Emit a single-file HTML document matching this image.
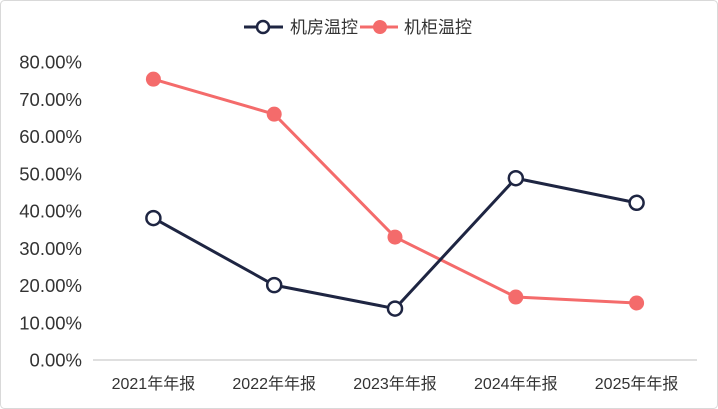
<!DOCTYPE html>
<html><head><meta charset="utf-8"><style>
body{margin:0;background:#fff;}
svg{display:block;font-family:"Liberation Sans","Noto Sans CJK SC",sans-serif;}
</style></head><body>
<svg id="c" width="718" height="409">
<rect x="0.5" y="0.5" width="717" height="408" rx="4" fill="#fff" stroke="#d9d9d9"/>
<g>
<g>
<line x1="244" y1="27" x2="283" y2="27" stroke="#1e2542" stroke-width="3"/>
<circle cx="263" cy="27" r="6" fill="#fff" stroke="#1e2542" stroke-width="2.5"/>
<text x="290" y="33" font-size="17" fill="#333">机房温控</text></g>
<g>
<line x1="360" y1="27" x2="398" y2="27" stroke="#f46b6b" stroke-width="3"/>
<circle cx="380" cy="27" r="7" fill="#f46b6b"/>
<text x="404" y="33" font-size="17" fill="#333">机柜温控</text></g>
</g>
<g id="axes"></g><g id="marks"></g>
</svg>
<script>
const categories=["2021年年报","2022年年报","2023年年报","2024年年报","2025年年报"];
const roomValues=[38.1,20.1,13.8,48.8,42.2];
const cabinetValues=[75.4,66.0,33.0,16.9,15.3];
const yTicks=[0,10,20,30,40,50,60,70,80];
const NS="http://www.w3.org/2000/svg";
const x0=93,x1=697,y0=360,yTop=62;
const xs=i=>x0+(x1-x0)/categories.length*(i+0.5);
const ys=v=>y0-(y0-yTop)*v/80;
function mk(t,a,p){const e=document.createElementNS(NS,t);for(const k in a)e.setAttribute(k,a[k]);p.appendChild(e);return e;}
const ax=document.getElementById('axes'),mg=document.getElementById('marks');
yTicks.forEach(v=>{const t=mk('text',{x:82,y:ys(v)+6.5,'text-anchor':'end','font-size':18.5,fill:'#333'},ax);t.textContent=v.toFixed(2)+'%';

});
const axl=mk('line',{x1:x0,y1:y0,x2:x1,y2:y0,stroke:'#bfbfbf'},ax);


categories.forEach((c,i)=>{const t=mk('text',{x:xs(i),y:389,'text-anchor':'middle','font-size':16,fill:'#333'},ax);t.textContent=c;

});
function series(vals,col,hollow,name){
 const pl=mk('polyline',{points:vals.map((v,i)=>xs(i)+','+ys(v)).join(' '),fill:'none',stroke:col,'stroke-width':3,'stroke-linejoin':'round'},mg);
 
 
 vals.forEach((v,i)=>{const c=mk('circle',hollow?{cx:xs(i),cy:ys(v),r:7,fill:'#fff',stroke:col,'stroke-width':2.5}:{cx:xs(i),cy:ys(v),r:7.5,fill:col},mg);
 
 });
}
series(cabinetValues,'#f46b6b',false,'cabinet');
series(roomValues,'#1e2542',true,'room');
</script>
</body></html>
